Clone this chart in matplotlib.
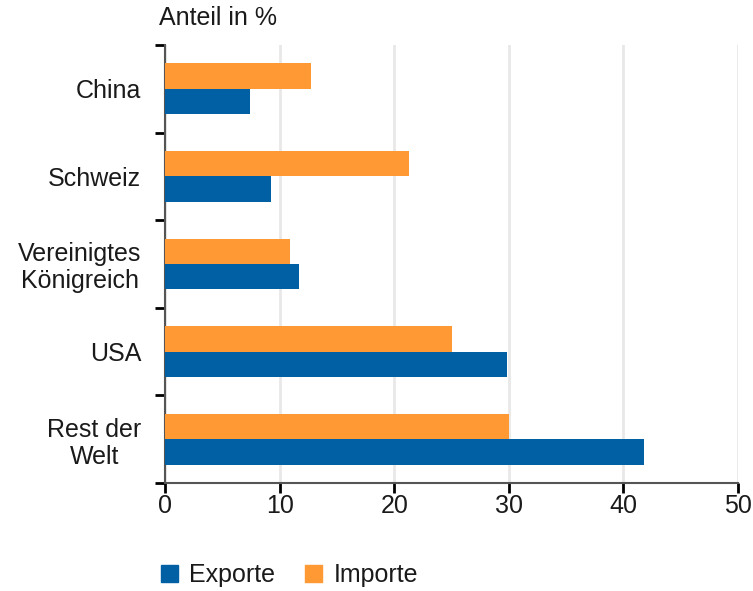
import matplotlib
matplotlib.use("Agg")
import matplotlib.pyplot as plt
import numpy as np
from matplotlib.patches import Patch

plt.rcParams['font.family'] = ['Liberation Sans', 'DejaVu Sans']
plt.rcParams['text.color'] = '#1a1a1a'
plt.rcParams['xtick.labelcolor'] = '#1a1a1a'
plt.rcParams['ytick.labelcolor'] = '#1a1a1a'

categories = ["China", "Schweiz", "Vereinigtes\nKönigreich", "USA", "Rest der\nWelt"]
exporte = [7.4, 9.25, 11.7, 29.8, 41.8]
importe = [12.7, 21.25, 10.95, 25.0, 30.0]
xticks = [0, 10, 20, 30, 40, 50]

blue = "#0060a3"
orange = "#ff9933"
FS = 18

fig = plt.figure(figsize=(7.53, 5.91), dpi=100)
ax = fig.add_axes([165/753, 1-483/591, (738-165)/753, (483-45)/591])

y = np.arange(len(categories))
h = 0.29
ax.barh(y - h/2, importe, height=h, color=orange, zorder=3)
ax.barh(y + h/2, exporte, height=h, color=blue, zorder=3)

ax.set_xlim(0, 50)
ax.set_ylim(len(categories) - 0.5, -0.5)
ax.set_xticks(xticks)
ax.set_xticklabels([str(v) for v in xticks], fontsize=FS)
ax.set_yticks(y)
ax.set_yticklabels(categories, fontsize=FS, linespacing=1.15, multialignment='center')
ax.set_yticks(np.arange(-0.5, len(categories)), minor=True)
ax.tick_params(axis='y', which='major', length=0, pad=17)
ax.tick_params(axis='y', which='minor', length=7, width=2, color='black', direction='out')
ax.tick_params(axis='x', which='major', length=7, width=2, color='black', pad=1)
ax.xaxis.grid(True, color='#e8e8e8', linewidth=2, zorder=0)
ax.set_axisbelow(True)
for s in ['top', 'right']:
    ax.spines[s].set_visible(False)
ax.spines['left'].set_color('#555555')
ax.spines['bottom'].set_color('#555555')
ax.spines['left'].set_linewidth(1.5)
ax.spines['bottom'].set_linewidth(1.5)

fig.text(159/753, 1-18/591, "Anteil in %", fontsize=FS, va='center', ha='left')

handles = [Patch(color=blue, label="Exporte"), Patch(color=orange, label="Importe")]
fig.legend(handles=handles, loc='center left', bbox_to_anchor=(161/753, 1-575/591),
           ncol=2, frameon=False, fontsize=FS, handlelength=0.68, handleheight=0.68,
           handletextpad=0.45, columnspacing=1.2, borderpad=0, borderaxespad=0)

fig.savefig("out.png", dpi=100)
